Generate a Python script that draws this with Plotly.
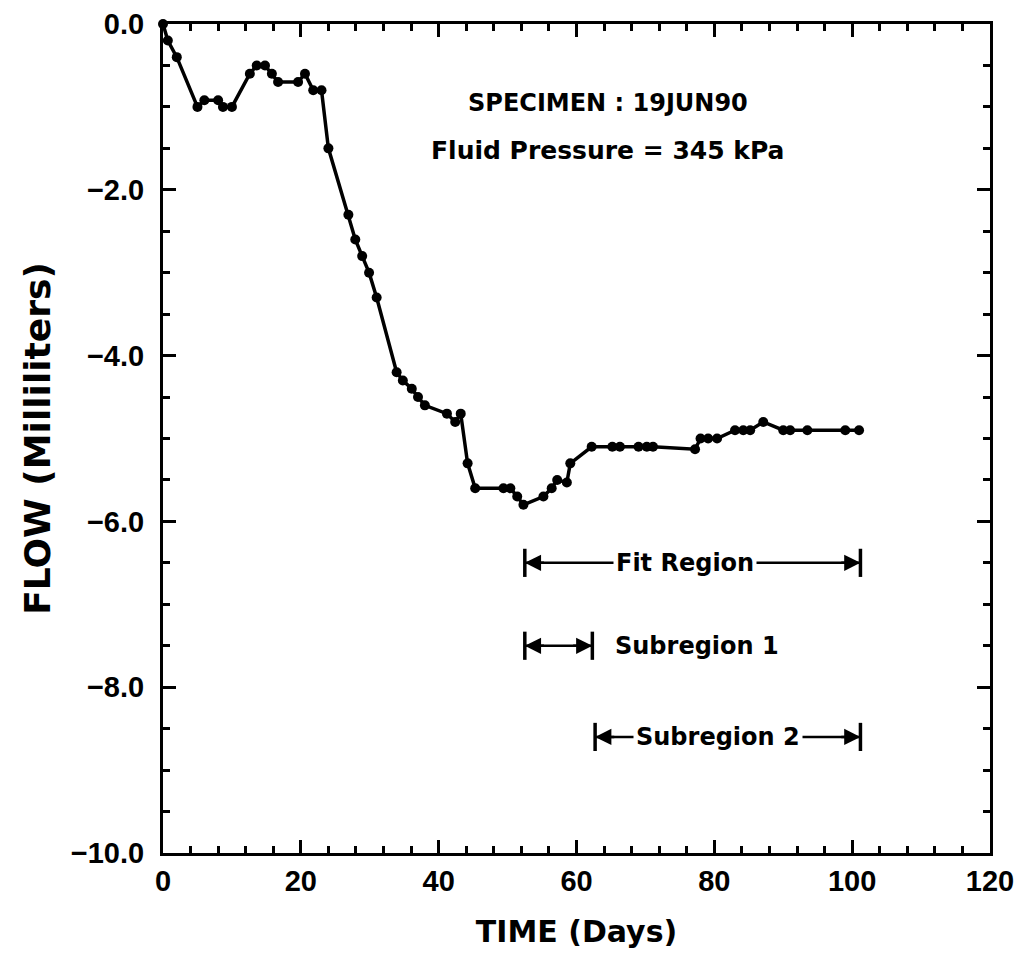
import plotly.graph_objects as go

time_days = [0, 0.7, 2, 5, 6, 8, 8.7, 10, 12.6, 13.6, 14.8, 15.8, 16.7, 19.6, 20.6, 21.8, 23,
             24, 26.9, 27.9, 28.9, 29.9, 31, 33.9, 34.8, 36.1, 37, 38, 41.2, 42.4, 43.2,
             44.2, 45.3, 49.4, 50.4, 51.4, 52.3, 55.2, 56.4, 57.2, 58.6, 59.1, 62.2,
             65.2, 66.3, 69, 70.2, 71.1, 77.2, 78, 79.1, 80.4, 83, 84.2, 85.2, 87.1,
             90, 91, 93.5, 99, 101]
flow_ml = [0, -0.2, -0.4, -1.0, -0.92, -0.92, -1.0, -1.0, -0.6, -0.5, -0.5, -0.6, -0.7, -0.7, -0.6, -0.8, -0.8,
           -1.5, -2.3, -2.6, -2.8, -3.0, -3.3, -4.2, -4.3, -4.4, -4.5, -4.6, -4.7, -4.8, -4.7,
           -5.3, -5.6, -5.6, -5.6, -5.7, -5.8, -5.7, -5.6, -5.5, -5.53, -5.3, -5.1,
           -5.1, -5.1, -5.1, -5.1, -5.1, -5.13, -5.0, -5.0, -5.0, -4.9, -4.9, -4.9, -4.8,
           -4.9, -4.9, -4.9, -4.9, -4.9]

x_ticks = [0, 20, 40, 60, 80, 100, 120]
y_ticks = [0, -2, -4, -6, -8, -10]
y_ticktext = ["0.0", "\u22122.0", "\u22124.0", "\u22126.0", "\u22128.0", "\u221210.0"]

# region annotations: (label, start, end, level)
regions = [
    ("Fit Region", 52.5, 101.2, -6.5),
    ("Subregion 1", 52.5, 62.3, -7.5),
    ("Subregion 2", 62.7, 101.2, -8.6),
]
# label positions: (label, x, y)
label_pos = [("Fit Region", 75.8, -6.5), ("Subregion 1", 77.5, -7.5), ("Subregion 2", 80.6, -8.6)]

FONT = "Liberation Sans"
TFONT = "DejaVu Sans"

fig = go.Figure()
fig.add_trace(go.Scatter(
    x=time_days, y=flow_ml, mode="lines+markers",
    line=dict(color="black", width=3.5),
    marker=dict(color="black", size=10),
    showlegend=False, cliponaxis=False,
))

axis_common = dict(
    showline=True, linecolor="black", linewidth=3, mirror="allticks",
    ticks="inside", ticklen=13, tickwidth=3, tickcolor="black",
    showgrid=False, zeroline=False, automargin=False,
    tickfont=dict(family=FONT, size=29, color="black"),
)

fig.update_xaxes(
    range=[0, 120], tickvals=x_ticks, ticktext=["<b>%d</b>" % v for v in x_ticks],
    minor=dict(dtick=4, ticks="inside", ticklen=7, tickwidth=3, tickcolor="black", showgrid=False),
    title=dict(text="<b>TIME (Days)</b>", font=dict(family=TFONT, size=30, color="black"), standoff=26),
    **axis_common,
)
fig.update_yaxes(
    range=[-10, 0], tickvals=y_ticks, ticktext=["<b>" + t + "</b>" for t in y_ticktext],
    ticklabelstandoff=10,
    minor=dict(dtick=0.5, ticks="inside", ticklen=7, tickwidth=3, tickcolor="black", showgrid=False),
    title=dict(text="<b>FLOW (Milliliters)</b>", font=dict(family=TFONT, size=36, color="black"), standoff=10),
    **axis_common,
)

fig.add_annotation(x=64.5, y=-0.95, xref="x", yref="y", showarrow=False,
                   text="<b>SPECIMEN : 19JUN90</b>",
                   font=dict(family=TFONT, size=24, color="black"))
fig.add_annotation(x=64.5, y=-1.52, xref="x", yref="y", showarrow=False,
                   text="<b>Fluid Pressure = 345 kPa</b>",
                   font=dict(family=TFONT, size=25, color="black"))

for label, x0, x1, lvl in regions:
    fig.add_shape(type="line", x0=x0, x1=x1, y0=lvl, y1=lvl,
                  xref="x", yref="y", line=dict(color="black", width=2.5))
    for xb in (x0, x1):
        fig.add_shape(type="line", x0=xb, x1=xb, y0=lvl - 0.17, y1=lvl + 0.17,
                      xref="x", yref="y", line=dict(color="black", width=3.5))
    fig.add_annotation(x=x0, y=lvl, ax=x0 + 3, ay=lvl, axref="x", ayref="y", xref="x", yref="y",
                       showarrow=True, arrowhead=2, arrowsize=1.3, arrowwidth=2.5, arrowcolor="black",
                       text="", standoff=0, startstandoff=0)
    fig.add_annotation(x=x1, y=lvl, ax=x1 - 3, ay=lvl, axref="x", ayref="y", xref="x", yref="y",
                       showarrow=True, arrowhead=2, arrowsize=1.3, arrowwidth=2.5, arrowcolor="black",
                       text="", standoff=0, startstandoff=0)

for txt, xl, yl in label_pos:
    fig.add_annotation(x=xl, y=yl, xref="x", yref="y", showarrow=False,
                       text="<b>" + txt + "</b>", bgcolor="white", borderpad=2,
                       font=dict(family=TFONT, size=24, color="black"))

fig.update_layout(
    width=1024, height=953,
    margin=dict(l=163, r=34, t=24, b=100),
    paper_bgcolor="white", plot_bgcolor="white",
)

fig.write_html("out.html")
